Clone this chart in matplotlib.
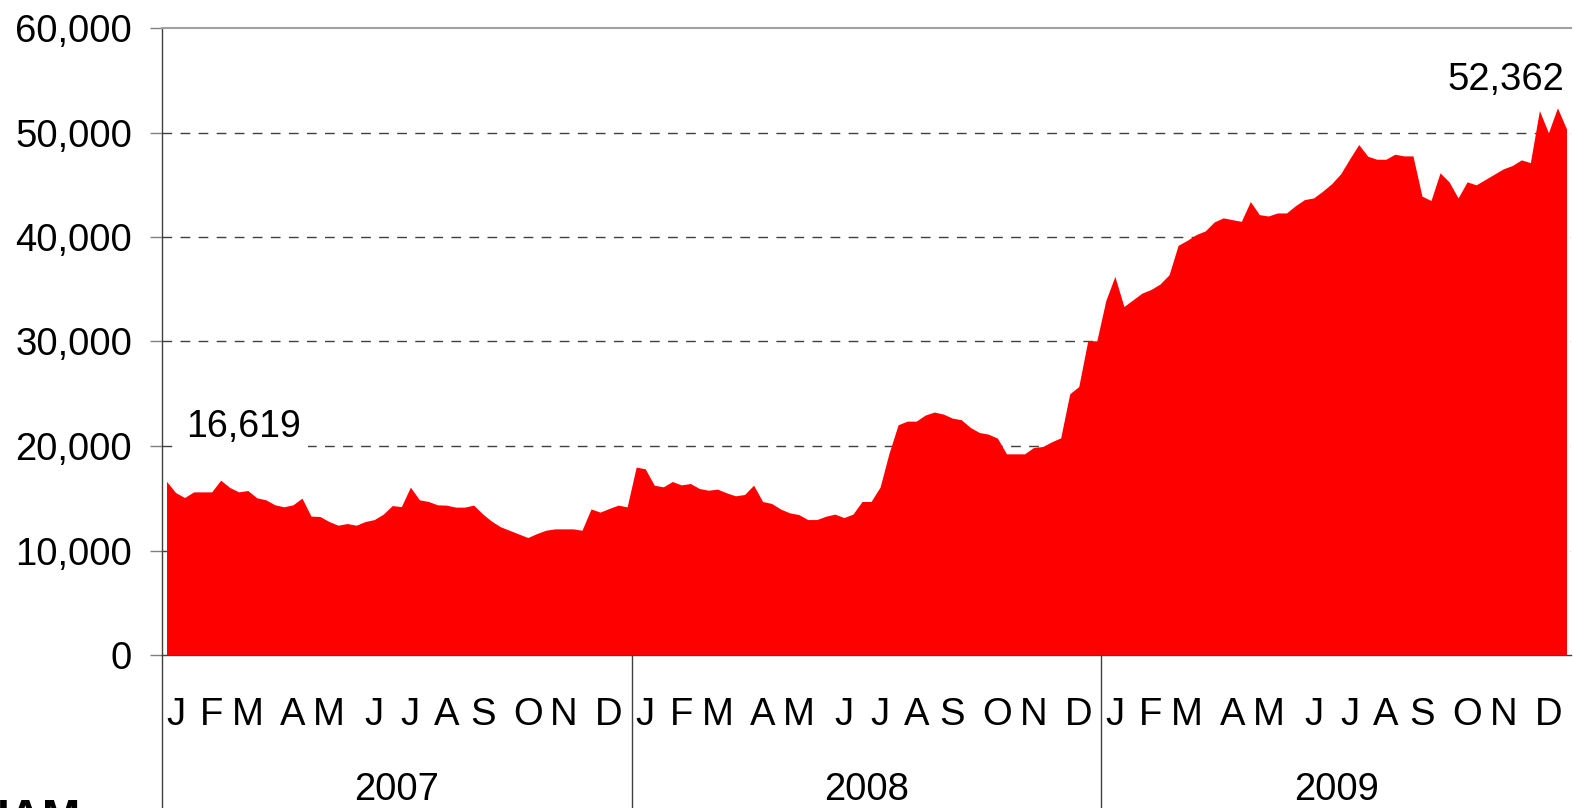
import numpy as np
import matplotlib
matplotlib.use('Agg')
import matplotlib.pyplot as plt
from matplotlib.ticker import FuncFormatter
from matplotlib.transforms import blended_transform_factory

# weekly values, Jan 2007 .. Dec 2009
values_2007 = [16619, 15550, 15070, 15610, 15610, 15610, 16730, 16030, 15610, 15740,
               15040, 14850, 14370, 14180, 14370, 15010, 13290, 13250, 12770, 12420,
               12580, 12420, 12770, 12960, 13480, 14300, 14200, 16060, 14850, 14690,
               14370, 14340, 14150, 14150, 14340, 13500, 12800, 12260, 11920, 11580,
               11240, 11620, 11940, 12070, 12070, 12070, 11940, 13980, 13670, 14020,
               14340, 14180]
values_2008 = [17980, 17820, 16250, 16090, 16600, 16280, 16410, 15930, 15770, 15870,
               15520, 15230, 15360, 16250, 14690, 14500, 13960, 13600, 13440, 12960,
               12960, 13280, 13480, 13150, 13480, 14690, 14690, 16060, 19330, 22030,
               22380, 22380, 22960, 23250, 23060, 22670, 22510, 21770, 21290, 21130,
               20750, 19250, 19250, 19250, 19860, 19950, 20400, 20780, 24990, 25690,
               30070, 30070]
values_2009 = [33930, 36230, 33350, 33990, 34630, 34980, 35500, 36390, 39200, 39680,
               40230, 40580, 41440, 41830, 41660, 41500, 43390, 42140, 42010, 42300,
               42300, 43000, 43580, 43740, 44380, 45100, 46050, 47480, 48850, 47730,
               47440, 47440, 47920, 47760, 47760, 43910, 43490, 46140, 45280, 43740,
               45280, 44990, 45500, 46010, 46520, 46840, 47380, 47120, 52100, 49980,
               52362, 50340]

years = ['2007', '2008', '2009']
months = ['J', 'F', 'M', 'A', 'M', 'J', 'J', 'A', 'S', 'O', 'N', 'D']
# week (within the year) that carries each month letter
month_weeks = [1, 5, 9, 14, 18, 23, 27, 31, 35, 40, 44, 49]
weeks_per_year = 52

yticks = [0, 10000, 20000, 30000, 40000, 50000, 60000]

first_label = '16,619'
last_label = '52,362'

plt.rcParams['font.family'] = ['Liberation Sans', 'DejaVu Sans']
plt.rcParams['lines.scale_dashes'] = False

W, H = 1573, 808
fig = plt.figure(figsize=(W / 100, H / 100), dpi=100)
ax = fig.add_axes([162 / W, 153 / H, 1409 / W, 627 / H])

values = np.array(values_2007 + values_2008 + values_2009)
x = np.arange(len(values)) + 0.5
ax.fill_between(x, values, 0, color='#ff0000', linewidth=0, zorder=3)

ax.set_xlim(0, weeks_per_year * len(years))
ax.set_ylim(yticks[0], yticks[-1])
ax.set_yticks(yticks)
ax.yaxis.set_major_formatter(FuncFormatter(lambda v, p: f'{int(v):,}'))
ax.set_xticks([])

for v in yticks[1:-1]:
    ax.axhline(v, color='#404040', lw=1.0, ls=(0, (7, 6)), zorder=1)

ax.tick_params(axis='y', length=8.6, width=1, color='#808080', pad=13,
               labelsize=27.5, labelcolor='black')

ax.spines['right'].set_visible(False)
ax.spines['top'].set_color('#a0a0a0')
ax.spines['top'].set_linewidth(1.5)
ax.spines['left'].set_color('#404040')
ax.spines['bottom'].set_color('#404040')
ax.spines['left'].set_linewidth(1.0)
ax.spines['bottom'].set_linewidth(1.0)

trans = blended_transform_factory(ax.transData, ax.transAxes)

# month letters and years under the axis
for yi, yr in enumerate(years):
    base = yi * weeks_per_year
    for m, wk in zip(months, month_weeks):
        ax.text(base + wk + 0.5, -0.1116, m, transform=trans, ha='center',
                va='baseline', fontsize=27.5)
    ax.text(base + weeks_per_year / 2, -0.2313, yr, transform=trans,
            ha='center', va='baseline', fontsize=27.5)
    ax.plot([base, base], [0, -0.26], transform=trans, color='#404040',
            lw=1.0, clip_on=False, zorder=5)

# value labels
ax.text(8.97, 20860, first_label, ha='center', va='baseline', fontsize=27,
        zorder=4, bbox=dict(boxstyle='square,pad=0.2', facecolor='white',
                            edgecolor='none'))
ax.text(148.8, 54070, last_label, ha='center', va='baseline', fontsize=27.5,
        zorder=4)

# cropped logo at the bottom-left corner
fig.text(-0.002, 0.012, 'IAM', ha='left', va='top', fontsize=33,
         fontweight='bold', color='black')

fig.savefig('out.png', dpi=100)
